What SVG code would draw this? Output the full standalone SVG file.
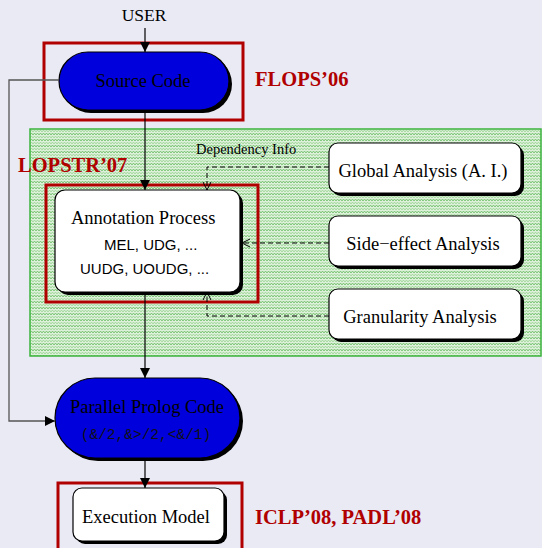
<svg xmlns="http://www.w3.org/2000/svg" width="542" height="548" viewBox="0 0 542 548">
<defs>
<pattern id="hatch" width="6" height="6" patternUnits="userSpaceOnUse">
<rect width="6" height="6" fill="#DDF0DA"/>
<path d="M0 3 L1.5 1 L3 3 L4.5 1 L6 3" fill="none" stroke="#6FC06A" stroke-width="0.9"/>
<path d="M0 6 L1.5 4 L3 6 L4.5 4 L6 6" fill="none" stroke="#8FD08A" stroke-width="0.7"/>
</pattern>
<marker id="arr" markerWidth="10" markerHeight="10" refX="10" refY="5" orient="auto" markerUnits="userSpaceOnUse">
<path d="M0 0 L10 5 L0 10 Z" fill="#000"/>
</marker>
<marker id="open" markerWidth="10" markerHeight="10" refX="9" refY="5" orient="auto" markerUnits="userSpaceOnUse">
<path d="M1 1 L9 5 L1 9" fill="none" stroke="#000" stroke-width="1"/>
</marker>
</defs>
<style>
.serif{font-family:"Liberation Serif","Times New Roman",serif;}
.sans{font-family:"Liberation Sans",Arial,sans-serif;}
.mono{font-family:"Liberation Mono","Courier New",monospace;}
.red{fill:none;stroke:#B00000;stroke-width:3;}
.pub{font-family:"Liberation Serif","Times New Roman",serif;font-weight:bold;font-size:20.5px;fill:#B00000;}
.box{fill:#fff;stroke:#000;stroke-width:1.2;}
.shadow{fill:#000;}
.pill{fill:#0000DD;stroke:#000;stroke-width:1.2;}
.conn{fill:none;stroke:#000;stroke-width:1.2;}
.dash{fill:none;stroke:#000;stroke-width:1;stroke-dasharray:5,3;}
.lbl{font-size:18.5px;fill:#000;text-anchor:middle;}
</style>
<rect width="542" height="548" fill="#EAEAF5"/>
<rect x="30" y="129" width="511" height="227" fill="url(#hatch)" stroke="#3CB43C" stroke-width="1.5"/>

<g id="user"><text x="144" y="21" class="serif" font-size="17.5" text-anchor="middle">USER</text></g>

<g id="source-code">
<rect x="62" y="55" width="170" height="58" rx="29" class="shadow"/>
<rect x="59" y="52" width="170" height="58" rx="29" class="pill"/>
<text x="143" y="87" class="serif lbl">Source Code</text>
</g>

<g id="annotation">
<rect x="58" y="193" width="185" height="102" rx="10" class="shadow"/>
<rect x="55" y="190" width="185" height="102" rx="10" class="box"/>
<text x="71" y="224" class="serif" font-size="18.5">Annotation Process</text>
<text x="104" y="250" class="sans" font-size="15">MEL, UDG, ...</text>
<text x="80" y="274" class="sans" font-size="15">UUDG, UOUDG, ...</text>
</g>

<g id="global">
<rect x="332" y="146" width="192" height="50" rx="9" class="shadow"/>
<rect x="329" y="143" width="192" height="50" rx="9" class="box"/>
<text x="423" y="177" class="serif lbl">Global Analysis (A. I.)</text>
</g>

<g id="side-effect">
<rect x="332" y="219" width="192" height="50" rx="9" class="shadow"/>
<rect x="329" y="216" width="192" height="50" rx="9" class="box"/>
<text x="423" y="250" class="serif lbl">Side−effect Analysis</text>
</g>

<g id="granularity">
<rect x="332" y="292" width="192" height="50" rx="9" class="shadow"/>
<rect x="329" y="289" width="192" height="50" rx="9" class="box"/>
<text x="420" y="323" class="serif lbl">Granularity Analysis</text>
</g>

<g id="parallel">
<rect x="58" y="381" width="185" height="80" rx="40" class="shadow"/>
<rect x="55" y="378" width="185" height="80" rx="40" class="pill"/>
<text x="147" y="413" class="serif" font-size="18.5" text-anchor="middle">Parallel Prolog Code</text>
<text x="146" y="439" class="mono" font-size="14.5" text-anchor="middle" fill="#111">(&amp;/2,&amp;&gt;/2,&lt;&amp;/1)</text>
</g>

<g id="execution">
<rect x="76" y="491" width="151" height="53" rx="9" class="shadow"/>
<rect x="73" y="488" width="151" height="53" rx="9" class="box"/>
<text x="146" y="523" class="serif lbl">Execution Model</text>
</g>

<g id="publications">
<rect x="44" y="43" width="199" height="77" class="red"/>
<text x="255" y="86" class="pub">FLOPS’06</text>
<rect x="46" y="185" width="212" height="117" class="red"/>
<text x="18" y="172" class="pub">LOPSTR’07</text>
<rect x="58" y="483" width="184" height="70" class="red"/>
<text x="255" y="524" class="pub">ICLP’08, PADL’08</text>
</g>

<g id="connectors">
<line x1="145" y1="28" x2="145" y2="52" class="conn" marker-end="url(#arr)"/>
<line x1="145" y1="110" x2="145" y2="190" class="conn" marker-end="url(#arr)"/>
<line x1="145" y1="292" x2="145" y2="378" class="conn" marker-end="url(#arr)"/>
<line x1="145" y1="458" x2="145" y2="488" class="conn" marker-end="url(#arr)"/>
<path d="M59 80 H9 V421 H55" fill="none" stroke="#555" stroke-width="1.3" marker-end="url(#arr)"/>
<path d="M329 167 H207 V190" class="dash" marker-end="url(#open)"/>
<path d="M329 243 H242" class="dash" marker-end="url(#open)"/>
<path d="M329 316 H207 V292" class="dash" marker-end="url(#open)"/>
<text x="196" y="154" class="serif" font-size="14.5">Dependency Info</text>
</g>
</svg>
